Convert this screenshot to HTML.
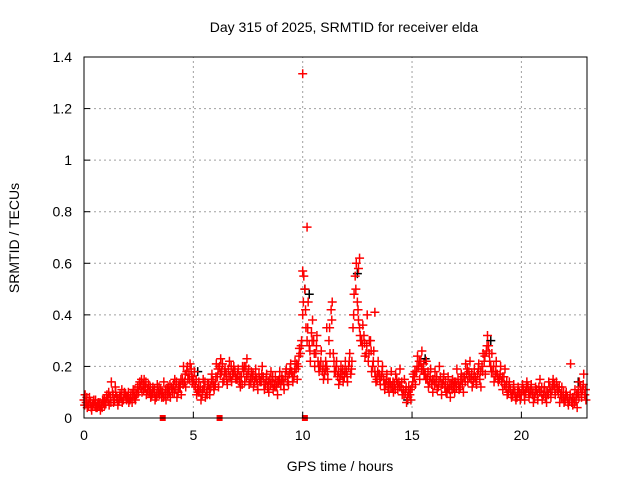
<!DOCTYPE html>
<html><head><meta charset="utf-8"><style>
body{margin:0;background:#fff;}
svg{display:block;font-family:"Liberation Sans",sans-serif;}
</style></head><body>
<svg id="chart" width="640" height="480">
<text x="344" y="32" font-size="14" text-anchor="middle">Day 315 of 2025, SRMTID for receiver elda</text>
<text x="340" y="471" font-size="14" text-anchor="middle">GPS time / hours</text>
<text transform="translate(19,238) rotate(-90)" font-size="14" text-anchor="middle">SRMTID / TECUs</text>
<g id="grid"></g><g id="marks"></g><g id="axes"></g>
</svg>
<script>
const xTicks=[0,5,10,15,20];
const yTicks=[0,0.2,0.4,0.6,0.8,1,1.2,1.4];
const yTickLabels=["0","0.2","0.4","0.6","0.8","1","1.2","1.4"];
const seriesA=[.07,.06,.05,.06,.05,.05,.04,.05,.05,.06,
.06,.07,.08,.10,.07,.08,.07,.08,.07,.09,
.08,.07,.06,.08,.09,.10,.12,.13,.12,.11,
.10,.09,.10,.08,.10,.11,.10,.09,.11,.10,
.12,.13,.11,.10,.12,.15,.14,.18,.17,.19,
.15,.12,.11,.10,.09,.12,.10,.13,.12,.14,
.13,.16,.20,.18,.15,.17,.19,.16,.17,.18,
.15,.14,.16,.18,.20,.17,.15,.16,.14,.15,
.17,.14,.16,.13,.12,.15,.14,.13,.12,.14,
.13,.15,.16,.14,.17,.18,.16,.19,.20,.25,
.40,.50,.30,.28,.33,.30,.25,.22,.20,.18,
.17,.20,.30,.42,.25,.18,.16,.15,.17,.16,
.18,.20,.17,.35,.55,.45,.35,.30,.32,.25,
.22,.30,.20,.18,.15,.17,.16,.15,.13,.12,
.14,.12,.13,.15,.14,.12,.11,.10,.08,.09,
.12,.16,.18,.20,.22,.19,.17,.15,.14,.13,
.15,.14,.12,.16,.13,.12,.10,.11,.13,.12,
.14,.15,.12,.13,.16,.17,.18,.15,.14,.16,
.17,.15,.20,.22,.26,.28,.20,.18,.16,.17,
.15,.14,.16,.12,.10,.11,.09,.10,.08,.10,
.09,.11,.10,.12,.10,.09,.08,.11,.12,.10,
.09,.08,.10,.12,.11,.13,.14,.10,.09,.08,
.07,.08,.07,.06,.08,.07,.10,.12,.11,.09];
const seriesB=[.09,.04,.08,.03,.07,.04,.06,.03,.07,.05,
.09,.05,.14,.06,.10,.05,.09,.06,.10,.07,
.06,.09,.11,.07,.12,.14,.10,.15,.09,.13,
.08,.12,.07,.13,.09,.08,.14,.07,.12,.08,
.10,.15,.08,.13,.09,.20,.12,.15,.21,.14,
.18,.09,.14,.07,.15,.08,.13,.09,.17,.11,
.21,.12,.23,.14,.19,.13,.22,.14,.20,.15,
.19,.12,.20,.14,.23,.13,.18,.12,.19,.11,
.14,.20,.11,.17,.10,.18,.11,.16,.09,.18,
.16,.11,.19,.13,.21,.14,.22,.15,.27,.30,
.55,.35,.45,.22,.38,.20,.32,.18,.26,.15,
.22,.15,.25,.45,.18,.22,.13,.20,.14,.22,
.14,.25,.22,.48,.60,.38,.30,.36,.24,.40,
.30,.18,.26,.14,.22,.13,.20,.11,.17,.10,
.18,.10,.17,.11,.19,.09,.15,.06,.12,.07,
.17,.13,.24,.15,.26,.17,.22,.12,.19,.10,
.18,.11,.20,.09,.17,.10,.16,.08,.15,.10,
.19,.11,.17,.10,.21,.14,.22,.12,.19,.13,
.21,.12,.25,.17,.32,.22,.25,.14,.22,.14,
.20,.11,.19,.09,.14,.08,.13,.07,.12,.07,
.13,.07,.14,.08,.13,.06,.12,.07,.15,.07,
.12,.06,.14,.08,.15,.09,.11,.06,.12,.06,
.10,.05,.21,.05,.11,.04,.14,.08,.17,.07];
const seriesC=[.05,.08,.06,.04,.06,.07,.05,.06,.04,.07,
.08,.10,.06,.09,.12,.07,.08,.11,.09,.08,
.10,.08,.09,.11,.10,.13,.15,.11,.14,.10,
.12,.10,.11,.09,.12,.10,.08,.11,.09,.13,
.11,.10,.14,.12,.15,.13,.17,.20,.15,.16,
.13,.15,.10,.12,.11,.14,.09,.11,.15,.12,
.16,.19,.17,.21,.18,.15,.16,.20,.18,.16,
.17,.16,.13,.20,.16,.19,.14,.17,.16,.13,
.15,.17,.13,.15,.14,.13,.16,.12,.14,.15,
.15,.13,.18,.16,.19,.16,.18,.21,.24,.28,
.45,.42,.35,.26,.30,.25,.28,.20,.22,.20,
.19,.18,.35,.38,.22,.20,.18,.17,.19,.18,
.16,.22,.19,.40,.50,.42,.32,.28,.29,.28,
.25,.26,.22,.16,.18,.15,.18,.13,.15,.14,
.12,.14,.11,.13,.12,.14,.09,.12,.10,.11,
.14,.18,.20,.22,.19,.21,.15,.18,.16,.15,
.13,.16,.14,.13,.15,.14,.12,.13,.11,.14,
.12,.13,.15,.16,.14,.19,.16,.17,.16,.14,
.19,.18,.18,.24,.28,.25,.18,.20,.18,.15,
.17,.16,.13,.14,.12,.09,.11,.08,.10,.09,
.11,.09,.12,.10,.11,.10,.10,.09,.10,.12,
.10,.10,.09,.10,.13,.11,.12,.12,.08,.10,
.09,.06,.09,.08,.06,.09,.08,.10,.13,.11];
const outlierX=[10.0,10.2,10.0,12.6,11.1,12.55,13.3];
const outlierY=[1.335,0.74,0.57,0.62,0.35,0.58,0.41];
const blackX=[10.1,12.5,15.6,18.6,5.2,10.3,22.6,14.8];
const blackY=[0.5,0.56,0.23,0.3,0.18,0.48,0.14,0.07];
const squareX=[3.6,6.2,10.1];
const squareY=[0,0,0];
const step=0.1;

const X0=84,X1=587,Y0=418,Y1=57,XMAX=23,YMAX=1.4;
const sx=v=>X0+(X1-X0)*v/XMAX;
const sy=v=>Y0-(Y0-Y1)*v/YMAX;
const NS="http://www.w3.org/2000/svg";
const grid=document.getElementById('grid'),marks=document.getElementById('marks'),axes=document.getElementById('axes');
function mk(tag,attrs,parent){const e=document.createElementNS(NS,tag);for(const k in attrs)e.setAttribute(k,attrs[k]);parent.appendChild(e);return e;}
xTicks.forEach((t,i)=>{
 if(t>0){const g=mk('line',{x1:sx(t),x2:sx(t),y1:Y0,y2:Y1,stroke:'#a0a0a0','stroke-dasharray':'2,3'},grid);
 
 }
 const tk=mk('line',{x1:sx(t),x2:sx(t),y1:Y0,y2:Y0-6,stroke:'#000'},axes);
 
 
 const tx=mk('text',{x:sx(t),y:Y0+22,'font-size':14,'text-anchor':'middle'},axes);tx.textContent=t;
 
 
});
yTicks.forEach((t,i)=>{
 if(t>0&&t<YMAX){const g=mk('line',{x1:X0,x2:X1,y1:sy(t),y2:sy(t),stroke:'#a0a0a0','stroke-dasharray':'2,3'},grid);
 
 }
 const tk=mk('line',{x1:X0,x2:X0+6,y1:sy(t),y2:sy(t),stroke:'#000'},axes);
 
 
 const tx=mk('text',{x:X0-12,y:sy(t)+5,'font-size':14,'text-anchor':'end'},axes);tx.textContent=yTickLabels[i];
 
 
});
const fr=mk('rect',{x:X0,y:Y1,width:X1-X0,height:Y0-Y1,fill:'none',stroke:'#000'},axes);


function plus(x,y,c){const p=mk('path',{d:`M${x-4.5},${y}h9M${x},${y-4.5}v9`,stroke:c,'stroke-width':1.5,fill:'none'},marks);return p;}
blackX.forEach((x,i)=>{const p=plus(sx(x),sy(blackY[i]),'#000');
 
 });
seriesA.forEach((v,i)=>{const p=plus(sx(i*step),sy(v),'#ff0000');
 
 });
seriesB.forEach((v,i)=>{const p=plus(sx(i*step+step/2),sy(v),'#ff0000');
 
 });
seriesC.forEach((v,i)=>{const p=plus(sx(i*step+step*0.3),sy(v),'#ff0000');
 
 });
outlierX.forEach((x,i)=>{const p=plus(sx(x),sy(outlierY[i]),'#ff0000');
 
 });
squareX.forEach((x,i)=>{const r=mk('rect',{x:sx(x)-3,y:sy(squareY[i])-3,width:6,height:6,fill:'#ff0000'},marks);
 
 });
</script>
</body></html>
